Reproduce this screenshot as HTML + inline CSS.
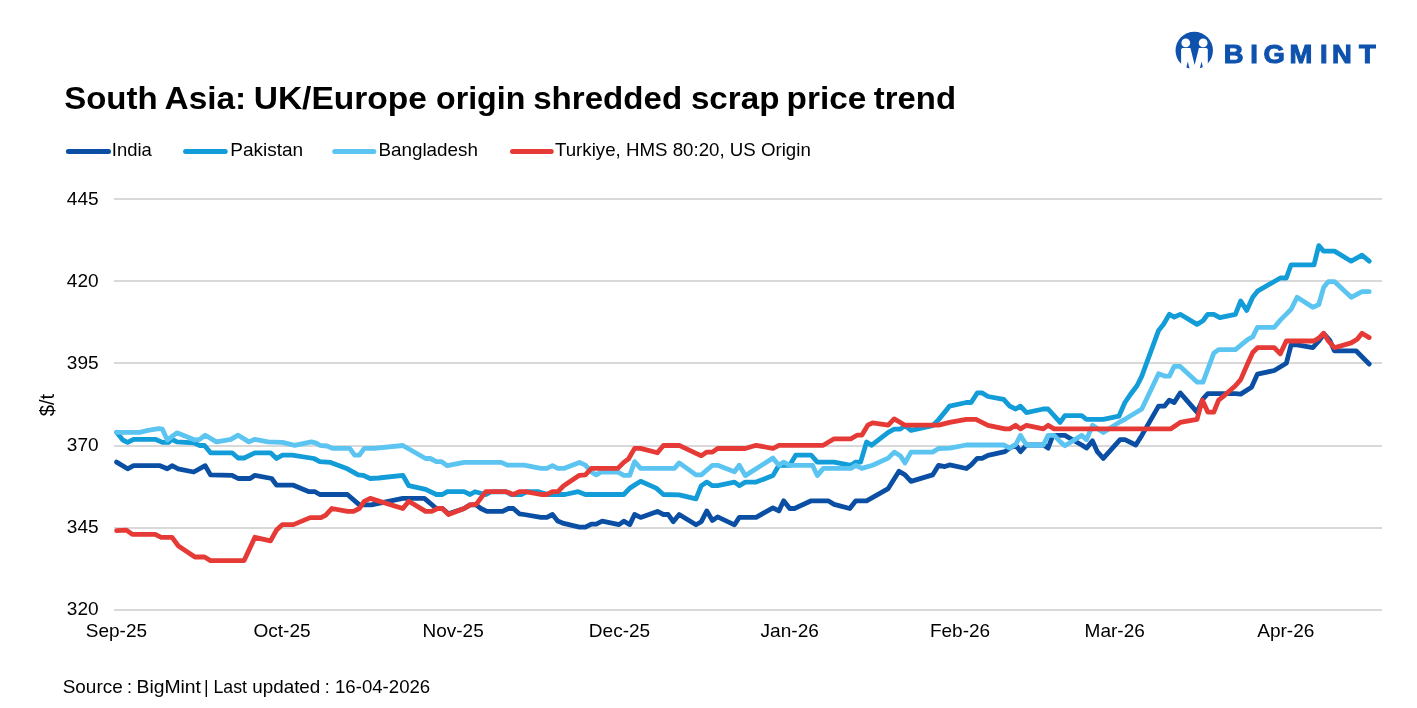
<!DOCTYPE html>
<html lang="en"><head><meta charset="utf-8"><title>South Asia: UK/Europe origin shredded scrap price trend</title>
<style>
html,body{margin:0;padding:0;background:#fff;}
body{width:1417px;height:708px;overflow:hidden;}
svg{display:block;}
text{font-family:"Liberation Sans", sans-serif;fill:#000;}
.t{font-size:17.8px;}
.ln{fill:none;stroke-width:4.8;stroke-linejoin:round;stroke-linecap:round;}
.sw{stroke-width:5;stroke-linecap:round;}
</style></head><body>
<svg width="1417" height="708" viewBox="0 0 1417 708">
<rect width="1417" height="708" fill="#fff"/>

<g stroke="#D9D9D9" stroke-width="2">
<line x1="114" y1="199" x2="1382" y2="199"/>
<line x1="114" y1="281" x2="1382" y2="281"/>
<line x1="114" y1="363" x2="1382" y2="363"/>
<line x1="114" y1="446" x2="1382" y2="446"/>
<line x1="114" y1="528" x2="1382" y2="528"/>
<line x1="114" y1="610" x2="1382" y2="610"/>
</g>
<g class="t" text-anchor="end">
<text x="98.6" y="204.8" textLength="31.8" lengthAdjust="spacingAndGlyphs">445</text>
<text x="98.6" y="286.8" textLength="31.8" lengthAdjust="spacingAndGlyphs">420</text>
<text x="98.6" y="368.8" textLength="31.8" lengthAdjust="spacingAndGlyphs">395</text>
<text x="98.6" y="450.8" textLength="31.8" lengthAdjust="spacingAndGlyphs">370</text>
<text x="98.6" y="532.8" textLength="31.8" lengthAdjust="spacingAndGlyphs">345</text>
<text x="98.6" y="614.7" textLength="31.8" lengthAdjust="spacingAndGlyphs">320</text>
</g>
<g class="t" text-anchor="middle">
<text x="116.4" y="636.7" textLength="61.2" lengthAdjust="spacingAndGlyphs">Sep-25</text>
<text x="282" y="636.7" textLength="57.2" lengthAdjust="spacingAndGlyphs">Oct-25</text>
<text x="453.1" y="636.7" textLength="61.2" lengthAdjust="spacingAndGlyphs">Nov-25</text>
<text x="619.5" y="636.7" textLength="61.4" lengthAdjust="spacingAndGlyphs">Dec-25</text>
<text x="789.7" y="636.7" textLength="58.3" lengthAdjust="spacingAndGlyphs">Jan-26</text>
<text x="960" y="636.7" textLength="60.2" lengthAdjust="spacingAndGlyphs">Feb-26</text>
<text x="1114.7" y="636.7" textLength="60.2" lengthAdjust="spacingAndGlyphs">Mar-26</text>
<text x="1285.8" y="636.7" textLength="57.2" lengthAdjust="spacingAndGlyphs">Apr-26</text>
</g>
<text transform="translate(54.3 405) rotate(-90)" font-size="21" text-anchor="middle" textLength="22.5" lengthAdjust="spacingAndGlyphs">$/t</text>
<path class="ln" stroke="#0A4FA3" d="M116.6 462.1 L127.6 468.8 L133.6 465.7 L160.0 465.7 L167.3 468.8 L172.1 465.7 L178.1 468.8 L193.7 472.0 L205.2 465.7 L210.5 474.9 L232.1 475.3 L238.1 478.5 L250.1 478.5 L254.9 475.3 L271.7 478.5 L276.5 485.2 L293.4 485.2 L309.0 491.7 L315.0 491.7 L319.8 494.5 L347.4 494.5 L359.4 504.9 L371.4 504.9 L402.8 498.4 L424.4 498.4 L436.4 508.5 L442.4 508.5 L448.5 513.8 L464.1 508.5 L470.1 504.9 L476.1 504.9 L480.9 508.5 L486.9 511.4 L502.5 511.4 L508.5 508.5 L513.3 508.5 L519.3 513.8 L524.1 514.5 L540.9 517.4 L546.9 517.4 L552.5 514.5 L557.7 521.0 L563.7 523.4 L579.4 527.2 L585.4 527.2 L591.4 524.1 L596.2 524.1 L602.2 521.2 L619.0 524.6 L623.8 521.2 L629.8 524.6 L634.6 514.5 L640.6 517.4 L657.4 511.4 L663.4 514.5 L668.2 514.5 L673.2 521.7 L679.2 514.5 L696.0 524.8 L701.3 521.7 L706.8 510.9 L712.4 520.5 L717.6 516.9 L734.5 524.8 L739.3 517.4 L756.1 517.4 L772.9 507.8 L778.9 510.9 L783.7 500.8 L789.7 508.5 L794.5 508.5 L811.3 500.8 L828.1 500.8 L834.1 504.4 L849.8 508.5 L855.8 500.8 L866.6 500.8 L888.2 488.6 L899.0 471.3 L905.0 474.9 L911.0 481.4 L932.6 474.9 L938.6 465.3 L944.8 466.6 L949.6 464.9 L966.4 468.5 L971.2 464.9 L977.2 458.4 L982.0 458.4 L988.0 455.3 L1004.9 451.7 L1009.7 448.1 L1015.7 445.0 L1020.5 451.7 L1026.5 445.0 L1043.3 445.0 L1048.1 448.1 L1052.9 435.4 L1064.9 435.4 L1081.7 445.0 L1086.5 448.1 L1092.5 440.9 L1097.3 451.7 L1103.3 458.4 L1120.1 439.7 L1124.9 439.7 L1135.8 445.0 L1141.8 435.4 L1158.6 406.1 L1164.6 406.1 L1169.4 400.1 L1174.2 402.5 L1180.2 392.9 L1197.0 412.1 L1203.0 398.9 L1207.8 393.6 L1235.4 393.6 L1240.7 394.1 L1251.5 387.3 L1257.5 374.1 L1274.3 370.5 L1286.3 363.3 L1291.1 344.8 L1297.1 344.8 L1312.8 347.7 L1318.8 341.0 L1324.0 333.8 L1329.6 340.0 L1334.4 350.8 L1356.0 350.8 L1369.2 364.0"/>
<path class="ln" stroke="#129CD8" d="M116.6 432.3 L122.8 440.0 L127.6 442.4 L133.6 439.3 L155.2 439.3 L162.4 442.4 L168.5 442.4 L172.1 439.3 L176.9 441.9 L193.7 442.9 L199.7 445.5 L204.5 445.5 L210.5 452.8 L232.1 452.8 L238.1 458.0 L244.1 458.0 L254.9 452.8 L270.5 452.8 L276.5 458.5 L282.5 455.2 L292.2 455.2 L313.8 458.5 L319.8 461.6 L330.6 462.4 L347.4 468.8 L358.2 474.9 L363.0 475.3 L370.2 478.5 L378.6 478.0 L402.8 475.3 L408.8 485.7 L425.6 489.3 L436.4 494.5 L442.4 494.5 L447.3 491.7 L464.1 491.7 L470.1 494.5 L474.9 491.7 L485.7 494.5 L491.0 491.9 L506.1 491.7 L510.9 494.5 L521.7 494.5 L527.0 491.7 L538.5 491.7 L548.1 494.5 L564.9 494.5 L578.2 491.7 L585.4 494.5 L623.8 494.5 L629.8 488.1 L640.6 481.3 L656.2 488.1 L663.4 494.5 L679.2 494.8 L696.0 498.9 L701.3 485.7 L706.8 482.1 L712.4 485.7 L717.6 485.7 L734.5 482.1 L739.3 485.7 L745.3 482.1 L756.1 482.1 L772.9 475.6 L778.9 465.3 L789.7 465.3 L795.7 455.2 L811.3 455.2 L817.3 462.1 L834.1 462.1 L851.0 465.3 L855.8 462.1 L860.6 462.1 L866.6 442.0 L871.4 445.3 L888.2 432.4 L894.2 429.2 L900.2 429.2 L905.0 425.6 L911.0 430.4 L932.6 425.6 L938.6 419.6 L944.8 412.1 L949.6 406.1 L966.4 402.5 L971.2 402.5 L977.2 392.9 L982.0 392.9 L988.0 396.5 L1003.7 399.4 L1009.7 406.1 L1015.7 409.0 L1020.5 406.1 L1026.5 412.6 L1043.3 409.0 L1048.1 409.0 L1054.1 415.7 L1060.1 422.4 L1064.9 415.7 L1081.7 415.7 L1086.5 419.3 L1103.3 419.3 L1118.9 416.2 L1124.9 402.5 L1129.8 395.3 L1137.0 385.7 L1141.8 376.1 L1158.6 330.4 L1163.4 324.4 L1169.4 314.3 L1174.2 317.2 L1180.2 314.3 L1197.0 324.4 L1203.0 320.8 L1207.8 314.3 L1213.8 314.3 L1219.8 317.7 L1235.4 314.3 L1240.7 300.9 L1246.7 310.5 L1252.7 297.3 L1257.5 291.2 L1280.3 278.0 L1286.3 278.0 L1291.1 264.8 L1314.0 264.8 L1318.8 245.6 L1323.6 251.1 L1334.4 251.1 L1351.2 261.2 L1362.0 255.2 L1369.2 261.2"/>
<path class="ln" stroke="#5BC4F1" d="M116.6 432.3 L139.6 432.3 L148.0 430.4 L158.8 428.7 L162.4 429.2 L167.3 440.0 L176.9 432.8 L194.9 440.0 L199.7 439.3 L205.2 435.2 L216.5 441.9 L230.9 439.3 L238.1 435.2 L248.9 441.9 L254.9 439.3 L268.1 441.9 L282.5 442.4 L294.6 445.3 L311.4 441.9 L316.2 443.1 L319.8 445.3 L327.0 446.0 L333.0 448.4 L349.8 448.4 L354.6 455.2 L359.4 455.2 L364.2 448.4 L373.8 448.4 L402.8 445.5 L425.6 458.5 L430.4 458.5 L436.4 461.6 L441.2 461.6 L447.3 465.7 L464.1 462.4 L501.3 462.4 L507.3 465.2 L524.1 465.2 L540.9 468.4 L546.9 468.4 L552.5 465.7 L557.7 468.4 L563.7 468.4 L579.4 462.4 L585.4 465.2 L591.4 472.0 L596.2 474.9 L601.0 472.0 L617.8 472.0 L623.8 475.3 L629.8 475.3 L634.6 461.6 L640.6 468.4 L658.6 468.4 L674.4 468.4 L679.2 462.9 L696.0 474.9 L701.3 474.9 L712.4 465.3 L717.6 465.3 L734.5 471.8 L739.3 465.3 L745.3 475.6 L772.9 458.1 L778.9 465.3 L783.7 462.1 L789.7 465.3 L812.5 465.3 L817.3 475.6 L823.3 468.4 L851.0 468.4 L855.8 465.3 L861.8 468.4 L872.6 465.3 L888.2 458.1 L894.2 452.1 L900.2 455.7 L905.0 462.9 L911.0 452.1 L932.6 452.1 L938.6 448.5 L949.6 448.1 L966.4 445.0 L1003.7 445.0 L1009.7 448.1 L1015.7 444.5 L1020.5 435.4 L1026.5 445.0 L1043.3 445.0 L1048.1 435.4 L1054.1 435.4 L1060.1 441.6 L1064.9 445.7 L1081.7 435.4 L1086.5 439.7 L1092.5 425.3 L1103.3 432.5 L1118.9 422.4 L1124.9 419.3 L1141.8 409.0 L1158.6 373.7 L1164.6 376.1 L1169.4 376.1 L1174.2 366.4 L1180.2 366.4 L1197.0 382.1 L1203.0 382.1 L1213.8 353.2 L1218.6 349.6 L1235.4 349.6 L1247.9 339.3 L1252.7 336.9 L1257.5 327.3 L1274.3 327.3 L1280.3 320.1 L1286.3 314.1 L1291.1 309.3 L1297.1 297.3 L1312.8 307.3 L1318.8 304.5 L1323.6 287.6 L1328.4 281.6 L1334.4 281.6 L1351.2 297.3 L1362.0 291.7 L1369.2 291.7"/>
<path class="ln" stroke="#E53A36" d="M116.6 530.6 L126.4 530.1 L132.4 534.4 L155.2 534.4 L161.2 537.3 L172.1 537.3 L178.1 545.7 L194.9 557.0 L204.5 557.0 L210.5 560.6 L244.1 560.6 L254.9 537.3 L270.5 540.9 L276.5 530.1 L282.5 524.6 L293.4 524.6 L310.2 517.6 L321.0 517.6 L325.8 515.2 L331.8 508.5 L347.4 511.4 L353.4 511.4 L359.4 508.5 L364.2 501.3 L370.2 498.4 L402.8 508.5 L408.8 501.3 L425.6 511.4 L431.6 511.4 L437.6 508.5 L442.4 508.5 L448.5 514.5 L464.1 508.5 L470.1 504.9 L476.1 504.4 L485.7 491.7 L506.1 491.7 L513.3 494.5 L519.3 491.7 L525.3 491.7 L540.9 494.5 L546.9 494.5 L552.5 491.7 L557.7 491.7 L563.7 485.7 L579.4 475.3 L585.4 474.9 L591.4 468.4 L617.8 468.4 L623.8 462.4 L628.6 458.8 L634.6 448.4 L640.6 448.4 L657.4 452.8 L663.4 445.5 L679.2 445.3 L696.0 453.3 L701.3 455.7 L706.8 452.1 L712.4 452.1 L717.6 448.5 L745.3 448.5 L756.1 445.3 L772.9 448.5 L778.9 445.3 L823.3 445.3 L834.1 438.8 L851.0 438.8 L857.0 435.2 L861.8 435.2 L867.8 425.2 L872.6 422.8 L888.2 425.2 L894.2 418.9 L905.0 425.2 L938.6 425.2 L949.6 422.4 L966.4 419.3 L976.0 419.3 L988.0 425.3 L1004.9 428.9 L1009.7 428.9 L1015.7 425.3 L1020.5 428.9 L1026.5 425.3 L1043.3 428.9 L1048.1 425.3 L1054.1 428.9 L1170.6 428.9 L1180.2 422.4 L1197.0 419.3 L1202.3 400.1 L1207.8 412.1 L1213.8 412.1 L1218.6 400.1 L1224.6 395.3 L1235.4 385.7 L1240.7 379.6 L1246.7 365.7 L1252.7 352.5 L1257.5 347.7 L1274.3 347.7 L1280.3 353.7 L1286.3 341.0 L1314.0 341.0 L1318.8 338.1 L1323.6 333.3 L1328.4 341.0 L1334.4 347.7 L1351.2 342.9 L1357.2 339.3 L1362.0 333.3 L1369.2 337.6"/>
<text y="109.4" font-size="32" font-weight="bold" xml:space="preserve"><tspan x="64.2" textLength="93.4" lengthAdjust="spacingAndGlyphs">South</tspan> <tspan x="164.5" textLength="81.7" lengthAdjust="spacingAndGlyphs">Asia:</tspan> <tspan x="253.7" textLength="173.2" lengthAdjust="spacingAndGlyphs">UK/Europe</tspan> <tspan x="436.0" textLength="89.3" lengthAdjust="spacingAndGlyphs">origin</tspan> <tspan x="533.2" textLength="149.0" lengthAdjust="spacingAndGlyphs">shredded</tspan> <tspan x="690.9" textLength="88.5" lengthAdjust="spacingAndGlyphs">scrap</tspan> <tspan x="786.6" textLength="79.8" lengthAdjust="spacingAndGlyphs">price</tspan> <tspan x="873.8" textLength="82.2" lengthAdjust="spacingAndGlyphs">trend</tspan></text>
<line class="sw" stroke="#0A4FA3" x1="68.4" y1="151.4" x2="108.5" y2="151.4"/>
<text class="t" x="111.8" y="155.9" textLength="40" lengthAdjust="spacingAndGlyphs">India</text>
<line class="sw" stroke="#129CD8" x1="185.6" y1="151.4" x2="225.2" y2="151.4"/>
<text class="t" x="230.2" y="155.9" textLength="73" lengthAdjust="spacingAndGlyphs">Pakistan</text>
<line class="sw" stroke="#5BC4F1" x1="334.7" y1="151.4" x2="373.8" y2="151.4"/>
<text class="t" x="378.4" y="155.9" textLength="99.5" lengthAdjust="spacingAndGlyphs">Bangladesh</text>
<line class="sw" stroke="#E53A36" x1="512.5" y1="151.4" x2="551.2" y2="151.4"/>
<text class="t" x="555.0" y="155.9" textLength="255.8" lengthAdjust="spacingAndGlyphs">Turkiye, HMS 80:20, US Origin</text>
<text class="t" y="693" xml:space="preserve"><tspan x="62.7" textLength="60.0" lengthAdjust="spacingAndGlyphs">Source</tspan> <tspan x="127.1" textLength="5.0" lengthAdjust="spacingAndGlyphs">:</tspan> <tspan x="136.5" textLength="64.5" lengthAdjust="spacingAndGlyphs">BigMint</tspan> <tspan x="204.0" textLength="4.6" lengthAdjust="spacingAndGlyphs">|</tspan> <tspan x="213.5" textLength="33.4" lengthAdjust="spacingAndGlyphs">Last</tspan> <tspan x="252.3" textLength="68.0" lengthAdjust="spacingAndGlyphs">updated</tspan> <tspan x="324.8" textLength="5.0" lengthAdjust="spacingAndGlyphs">:</tspan> <tspan x="335.0" textLength="95.2" lengthAdjust="spacingAndGlyphs">16-04-2026</tspan></text>
<defs><clipPath id="lc"><circle cx="1194.24" cy="50.51" r="18.7"/></clipPath></defs>
<circle cx="1194.24" cy="50.51" r="18.7" fill="#0E52AE"/>
<circle cx="1185.76" cy="42.88" r="4.4" fill="#fff"/><circle cx="1203.14" cy="42.88" r="4.4" fill="#fff"/>
<polygon fill="#fff" points="1181.10,49.24 1182.37,47.97 1190.42,47.97 1194.66,64.92 1198.90,47.97 1206.53,47.97 1207.80,49.24 1207.80,70.85 1181.10,70.85"/>
<g clip-path="url(#lc)" fill="#0E52AE"><polygon points="1187.71,61.53 1185.85,70.00 1189.92,70.00"/><polygon points="1201.61,61.53 1199.41,70.00 1203.47,70.00"/></g>
<text transform="scale(1.08 1)" font-size="25.4" font-weight="bold" style="fill:#0E52AE;stroke:#0E52AE;stroke-width:1.0" y="63.5" x="1133.01 1157.58 1169.90 1193.93 1222.30 1233.38 1258.22">BIGMINT</text>
</svg></body></html>
